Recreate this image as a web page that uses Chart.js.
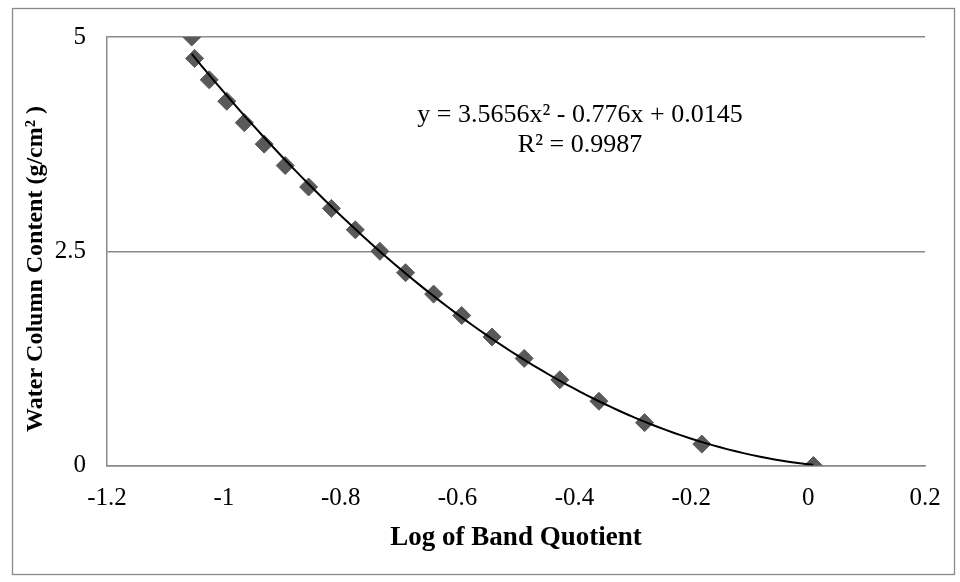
<!DOCTYPE html>
<html lang="en">
<head>
  <meta charset="UTF-8">
  <title>Water Column Content vs Log of Band Quotient</title>
  <script src="https://cdn.jsdelivr.net/npm/chart.js"></script>
  <style>
    html, body {
      margin: 0;
      padding: 0;
      background-color: white;
    }

    .wrap {
      position: relative;
      width: 960px;
      height: 582px;
    }
  </style>
</head>
<body>
  <div class="wrap">
    <canvas id="scatterChart" width="960" height="582"></canvas>
  </div>

  <script>
    // Measured points (x = log of band quotient, y = water column content)
    const bandQuotientLog = [
      -1.055, -1.050, -1.025, -0.995, -0.965, -0.931, -0.895, -0.855, -0.816, -0.775, -0.733,
      -0.689, -0.641, -0.593, -0.541, -0.486, -0.425, -0.358, -0.280, -0.182, 0.009
    ];
    const waterContent = [
      5, 4.75, 4.5, 4.25, 4, 3.75, 3.5, 3.25, 3, 2.75, 2.5,
      2.25, 2, 1.75, 1.5, 1.25, 1, 0.75, 0.5, 0.25, 0
    ];

    // Polynomial trendline as printed on the chart: a x^2 + b x + c
    const trendCoef = [3.5656, -0.776, 0.0145];
    const trendLabel = ["y = 3.5656x\u00B2 - 0.776x + 0.0145", "R\u00B2 = 0.9987"];

    const xTicks = [-1.2, -1, -0.8, -0.6, -0.4, -0.2, 0, 0.2];
    const xTickLabels = ["-1.2", "-1", "-0.8", "-0.6", "-0.4", "-0.2", "0", "0.2"];
    const yTicks = [0, 2.5, 5];
    const yTickLabels = ["0", "2.5", "5"];
    const yTitle = "Water Column Content (g/cm\u00B2 )";

    const gridGray = "#898989";
    const markerGray = "#595959";
    const serif = "'Liberation Serif', 'Times New Roman', serif";

    const points = bandQuotientLog.map((x, i) => ({ x: x, y: waterContent[i] }));

    // trendline drawn over the fitted x range
    const xMin = Math.min(...bandQuotientLog);
    const xMax = Math.max(...bandQuotientLog);
    const trendPoints = [];
    const steps = 80;
    for (let i = 0; i <= steps; i++) {
      const x = xMin + (xMax - xMin) * i / steps;
      trendPoints.push({ x: x, y: trendCoef[0] * x * x + trendCoef[1] * x + trendCoef[2] });
    }

    // outer frame, y title (sits a bit below the plot centre) and equation text
    const decorPlugin = {
      id: "decor",
      beforeDraw(chart) {
        const ctx = chart.ctx;
        ctx.save();
        ctx.strokeStyle = gridGray;
        ctx.lineWidth = 1.3;
        ctx.strokeRect(12.5, 8.5, 942, 566);
        ctx.restore();
      },
      afterDraw(chart) {
        const ctx = chart.ctx;
        ctx.save();
        ctx.fillStyle = "#000";
        ctx.font = "bold 24px " + serif;
        ctx.textAlign = "center";
        ctx.textBaseline = "middle";
        ctx.translate(36, 269);
        ctx.rotate(-Math.PI / 2);
        ctx.fillText(yTitle, 0, 0);
        ctx.restore();
      },
      afterDatasetsDraw(chart) {
        const ctx = chart.ctx;
        ctx.save();
        ctx.fillStyle = "#000";
        ctx.font = "26px " + serif;
        ctx.textAlign = "center";
        ctx.textBaseline = "middle";
        ctx.fillText(trendLabel[0], 580, 115);
        ctx.fillText(trendLabel[1], 580, 145);
        ctx.restore();
      }
    };

    new Chart(document.getElementById("scatterChart"), {
      type: "scatter",
      data: {
        datasets: [
          {
            label: "Poly. trend",
            type: "line",
            data: trendPoints,
            borderColor: "#000",
            borderWidth: 2,
            pointRadius: 0,
            fill: false,
            tension: 0,
            order: 0
          },
          {
            label: "Water column",
            data: points,
            pointStyle: "rectRot",
            pointRadius: 9,
            pointHoverRadius: 9,
            backgroundColor: markerGray,
            borderColor: markerGray,
            borderWidth: 1,
            order: 1
          }
        ]
      },
      options: {
        responsive: false,
        animation: false,
        layout: {
          padding: { left: 12, top: 37, right: 35, bottom: 0 }
        },
        plugins: {
          legend: { display: false },
          tooltip: { enabled: false }
        },
        scales: {
          x: {
            type: "linear",
            min: -1.2,
            max: 0.2,
            afterBuildTicks: axis => { axis.ticks = xTicks.map(v => ({ value: v })); },
            afterFit: axis => { axis.height = 116.5; },
            ticks: {
              padding: 18,
              color: "#000",
              font: { family: serif, size: 25 },
              maxRotation: 0,
              callback: (value, index) => xTickLabels[index]
            },
            grid: { display: false, drawTicks: false },
            border: { display: true, color: gridGray, width: 1.5 },
            title: {
              display: true,
              text: "Log of Band Quotient",
              color: "#000",
              font: { family: serif, size: 27, weight: "bold" },
              padding: { top: 0, bottom: 27.8 }
            }
          },
          y: {
            type: "linear",
            min: 0,
            max: 5,
            afterBuildTicks: axis => { axis.ticks = yTicks.map(v => ({ value: v })); },
            afterFit: axis => { axis.width = 95; },
            ticks: {
              padding: 21,
              color: "#000",
              font: { family: serif, size: 25 },
              callback: (value, index) => yTickLabels[index]
            },
            grid: { color: gridGray, lineWidth: 1.5, drawTicks: false },
            border: { display: true, color: gridGray, width: 1.5 }
          }
        }
      },
      plugins: [decorPlugin]
    });
  </script>
</body>
</html>
